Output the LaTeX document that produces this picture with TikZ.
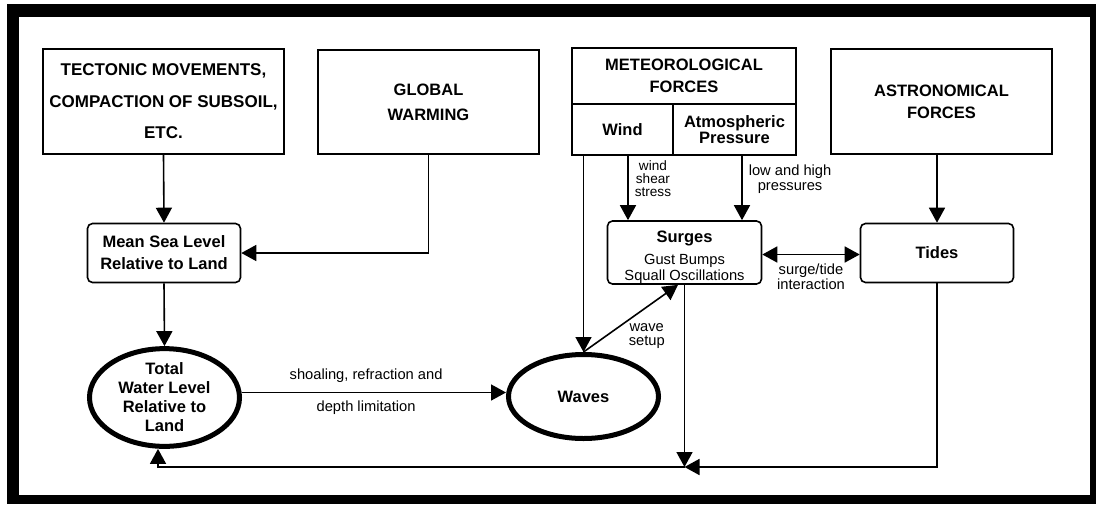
\documentclass[tikz,border=0pt]{standalone}
\usepackage{fontspec}
\setmainfont{Liberation Sans}
\usetikzlibrary{arrows.meta,shapes.geometric,calc}
\tikzset{
  bf/.style={font=\fontsize{16.5}{#1}\selectfont\bfseries},
  rg/.style={font=\fontsize{14.7}{#1}\selectfont},
  sq/.style={draw, line width=1.6pt, inner sep=0pt, align=center},
  rb/.style={sq, rounded corners=5pt},
  ell/.style={draw, ellipse, line width=5pt, inner sep=0pt, align=center},
  con/.style={line width=1.6pt},
  arr/.style={con, -{Triangle[length=15pt,width=16pt]}},
  darr/.style={con, {Triangle[length=15pt,width=16pt]}-{Triangle[length=15pt,width=16pt]}},
  lab/.style={rg=#1, align=center, inner sep=0pt}
}
\begin{document}
\begin{tikzpicture}[x=1pt,y=-1pt]
\useasboundingbox (0,0) rectangle (1098,504);
\fill[white] (0,0) rectangle (1098,504);
\fill[black] (7,4) rectangle (1096,504);
\fill[white] (19,17) rectangle (1090,495);

% top boxes
\node[sq, font=\fontsize{17}{31.5}\selectfont\bfseries, minimum width=241pt, minimum height=105pt] (tect) at (163.5,101.5)
  {TECTONIC MOVEMENTS,\\COMPACTION OF SUBSOIL,\\ETC.};
\node[sq, bf=25, minimum width=221pt, minimum height=104pt] (glob) at (428.5,102)
  {GLOBAL\\WARMING};
\node[sq, bf=22, minimum width=224pt, minimum height=56pt] (met) at (684,76)
  {METEOROLOGICAL\\FORCES};
\node[sq, bf=20, minimum width=101pt, minimum height=51pt] (wind) at (622.5,129.5) {Wind};
\node[sq, bf=16, minimum width=123pt, minimum height=51pt] (atm) at (734.5,129.5)
  {Atmospheric\\Pressure};
\node[sq, bf=22, minimum width=221pt, minimum height=105pt] (astro) at (941.5,101.5)
  {ASTRONOMICAL\\FORCES};

% middle boxes
\node[rb, bf=16, minimum width=154pt, minimum height=58pt] (surges) at (684.5,252.5)
  {\rule{0pt}{22pt}Surges\\[6pt]\fontsize{14.7}{16}\selectfont\mdseries Gust Bumps\\\fontsize{14.7}{16}\selectfont\mdseries Squall Oscillations};
\node[rb, bf=22, minimum width=153pt, minimum height=59pt] (msl) at (164,253)
  {Mean Sea Level\\Relative to Land};
\node[rb, bf=20, minimum width=153pt, minimum height=59pt] (tides) at (937,253) {Tides};

% ellipses
\node[ell, bf=19, minimum width=150pt, minimum height=90pt] (twl) at (164.5,397.5)
  {Total\\Water Level\\Relative to\\Land};
\node[ell, bf=19, minimum width=150pt, minimum height=84pt] (waves) at (583.5,396.5) {Waves};

\coordinate (J) at (684.5,467);

% connectors
\draw[arr] (tect.south) -- (msl.north);
\draw[arr] (glob.south) |- (msl.east);
\draw[arr] (msl.south) -- (twl.north);
\draw[arr] ([yshift=5pt]twl.east) -- ([yshift=5pt]twl.east -| waves.west)
  node[lab=15, pos=0.47, above=9pt] (l1) {shoaling, refraction and}
  node[lab=15, pos=0.47, below=8pt] (l2) {depth limitation};
\draw[arr] (waves.north |- wind.south) -- (waves.north);
\draw[arr] (waves.north) -- ([xshift=-6.5pt]surges.south)
  node[lab=14, pos=0.5, xshift=16pt, yshift=-18pt] (l3) {wave\\setup};
\draw[arr] ([xshift=5.5pt]wind.south) -- ([xshift=5.5pt]wind.south |- surges.north)
  node[font=\fontsize{13.6}{12.8}\selectfont, align=center, inner sep=0pt, midway, right=6pt, yshift=9.5pt] (l4) {wind\\shear\\stress};
\draw[arr] ([xshift=7.5pt]atm.south) -- ([xshift=7.5pt]atm.south |- surges.north)
  node[lab=15, midway, right=6pt, yshift=8.5pt] (l5) {low and high\\pressures};
\draw[arr] (astro.south -| tides.north) -- (tides.north);
\draw[darr] ([yshift=-2pt]surges.east) -- ([yshift=-2pt]surges.east -| tides.west)
  node[lab=15, midway, below=9pt] (l6) {surge/tide\\interaction};
\draw[arr] (surges.south) -- (J);
\draw[arr] (tides.south) |- (J);
\draw[arr] (J) -| ([xshift=-6.5pt]twl.south);
\end{tikzpicture}
\end{document}
